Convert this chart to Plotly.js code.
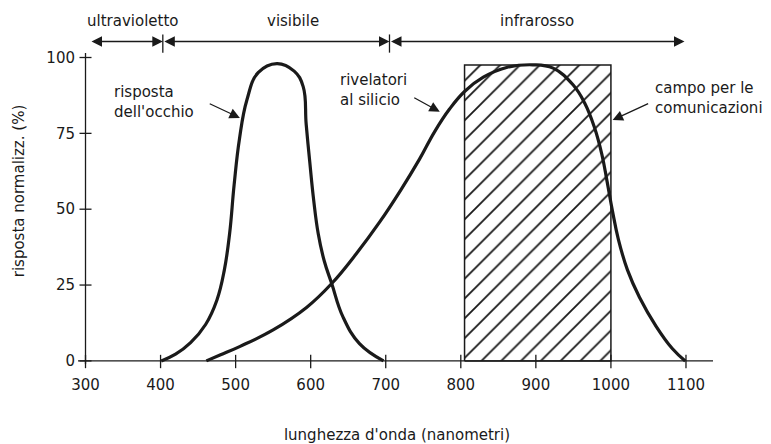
<!DOCTYPE html>
<html>
<head>
<meta charset="utf-8">
<script src="https://cdn.plot.ly/plotly-3.0.1.min.js"></script>
<style>html,body{margin:0;padding:0;background:#fff;}#chart{width:771px;height:444px;}</style>
</head>
<body>
<div id="chart"></div>
<script>
// Eye response (nm, %)
const eyeX = [401, 420, 440, 460, 475, 485, 492, 498, 505, 515, 530, 555, 578, 590, 594, 599, 604, 610, 618, 628, 643, 665, 697];
const eyeY = [0, 2.2, 6, 12, 20, 30, 42, 58, 73, 86, 95, 98, 95.5, 90.4, 78, 65, 53, 42, 33, 25.5, 14.5, 5.7, 0];
// Silicon detector response (nm, %)
const siX = [461, 480, 506, 550, 594.5, 628, 661, 692, 720, 745, 765, 785, 805, 830, 861, 896, 923, 949.5, 965, 978, 988, 995, 1002, 1010, 1022, 1038, 1060, 1082, 1099];
const siY = [0, 2, 4.8, 10.2, 17.6, 25.5, 35.4, 45.8, 56.3, 66.5, 75.5, 83, 88.8, 93.5, 96.7, 97.6, 96.5, 91, 85, 77, 68, 59, 49.5, 40, 30, 21, 11.5, 4, 0];
// Communications band
const bandX = [805, 1000];
const bandTop = 97.5;
// Ticks
const xTicks = [300, 400, 500, 600, 700, 800, 900, 1000, 1100];
const yTicks = [0, 25, 50, 75, 100];
// Spectral regions
const regionNames = ['ultravioletto', 'visibile', 'infrarosso'];
const regionStart = [306, 403, 705];
const regionEnd = [403, 705, 1098];
const regionLabelX = [363, 576, 901];
const separators = [403, 705];

const FONT = 'DejaVu Sans, sans-serif';
const INK = '#1a1a1a';

const traces = [
  {
    x: [bandX[0], bandX[0], bandX[1], bandX[1], bandX[0]],
    y: [0, bandTop, bandTop, 0, 0],
    mode: 'lines', fill: 'toself', fillcolor: 'rgba(0,0,0,0)',
    fillpattern: {shape: '/', size: 14, solidity: 0.13, fgcolor: INK, bgcolor: 'white'},
    line: {color: INK, width: 1.5}, hoverinfo: 'skip', showlegend: false
  },
  {
    x: eyeX, y: eyeY, mode: 'lines',
    line: {color: INK, width: 3.2, shape: 'spline', smoothing: 1.2}, showlegend: false
  },
  {
    x: siX, y: siY, mode: 'lines',
    line: {color: INK, width: 3.2, shape: 'spline', smoothing: 1.2}, showlegend: false
  }
];

const shapes = [];
// axis lines
shapes.push({type: 'line', xref: 'x', yref: 'y', x0: 290, x1: 1136, y0: 0, y1: 0, line: {color: INK, width: 1.3}});
shapes.push({type: 'line', xref: 'x', yref: 'y', x0: 300, x1: 300, y0: -1, y1: 101.5, line: {color: INK, width: 1.3}});
xTicks.forEach(t => shapes.push({type: 'line', xref: 'x', yref: 'y', x0: t, x1: t, y0: -2.4, y1: 2, line: {color: INK, width: 1.3}}));
yTicks.forEach(t => shapes.push({type: 'line', xref: 'x', yref: 'y', x0: 292, x1: 308, y0: t, y1: t, line: {color: INK, width: 1.3}}));
separators.forEach(s => shapes.push({type: 'line', xref: 'x', yref: 'y', x0: s, x1: s, y0: 101.6, y1: 107.6, line: {color: INK, width: 1.3}}));

const annotations = [];
regionNames.forEach((n, i) => {
  annotations.push({x: regionLabelX[i], y: 112, xref: 'x', yref: 'y', text: n, showarrow: false,
    font: {family: FONT, size: 15, color: INK}});
  annotations.push({x: regionEnd[i], y: 105.3, ax: regionStart[i], ay: 105.3, xref: 'x', yref: 'y', axref: 'x', ayref: 'y',
    text: '', showarrow: true, arrowhead: 2, startarrowhead: 2, arrowside: 'end+start', arrowsize: 1.5, startarrowsize: 1.5,
    arrowwidth: 1.4, arrowcolor: INK, standoff: 0, startstandoff: 0});
});
const labels = [
  {text: 'risposta<br>dell\'occhio', x: 335, y: 85.2, tipX: 505.7, tipY: 80.1, tailX: 463.5, tailY: 85},
  {text: 'rivelatori<br>al silicio', x: 636, y: 89.3, tipX: 772, tipY: 82.1, tailX: 736, tailY: 87},
  {text: 'campo per le<br>comunicazioni', x: 1055.6, y: 86.5, tipX: 1002.3, tipY: 79.4, tailX: 1051.6, tailY: 85}
];
labels.forEach(l => {
  annotations.push({x: l.x, y: l.y, xref: 'x', yref: 'y', text: l.text, showarrow: false, align: 'left',
    xanchor: 'left', yanchor: 'middle', font: {family: FONT, size: 15, color: INK}});
  annotations.push({x: l.tipX, y: l.tipY, ax: l.tailX, ay: l.tailY, xref: 'x', yref: 'y', axref: 'x', ayref: 'y',
    text: '', showarrow: true, arrowhead: 2, arrowsize: 1.6, arrowwidth: 1.3, arrowcolor: INK, standoff: 0});
});

const layout = {
  width: 771, height: 444,
  margin: {l: 78, r: 55, t: 12, b: 74},
  paper_bgcolor: 'white', plot_bgcolor: 'white',
  font: {family: FONT, color: INK, size: 15},
  showlegend: false,
  xaxis: {
    range: [290, 1140], showgrid: false, zeroline: false, showline: false, ticks: '',
    tickmode: 'array', tickvals: xTicks, ticktext: xTicks.map(String), ticklabelstandoff: 4,
    tickfont: {family: FONT, size: 15, color: INK},
    title: {text: 'lunghezza d\'onda (nanometri)', font: {family: FONT, size: 15, color: INK}, standoff: 36}
  },
  yaxis: {
    range: [-3, 115], showgrid: false, zeroline: false, showline: false, ticks: '',
    tickmode: 'array', tickvals: yTicks, ticktext: yTicks.map(String), ticklabelstandoff: 2,
    tickfont: {family: FONT, size: 15, color: INK},
    title: {text: 'risposta normalizz. (%)', font: {family: FONT, size: 15, color: INK}, standoff: 18}
  },
  shapes: shapes,
  annotations: annotations
};

Plotly.newPlot('chart', traces, layout, {staticPlot: true, displayModeBar: false});
</script>
</body>
</html>
